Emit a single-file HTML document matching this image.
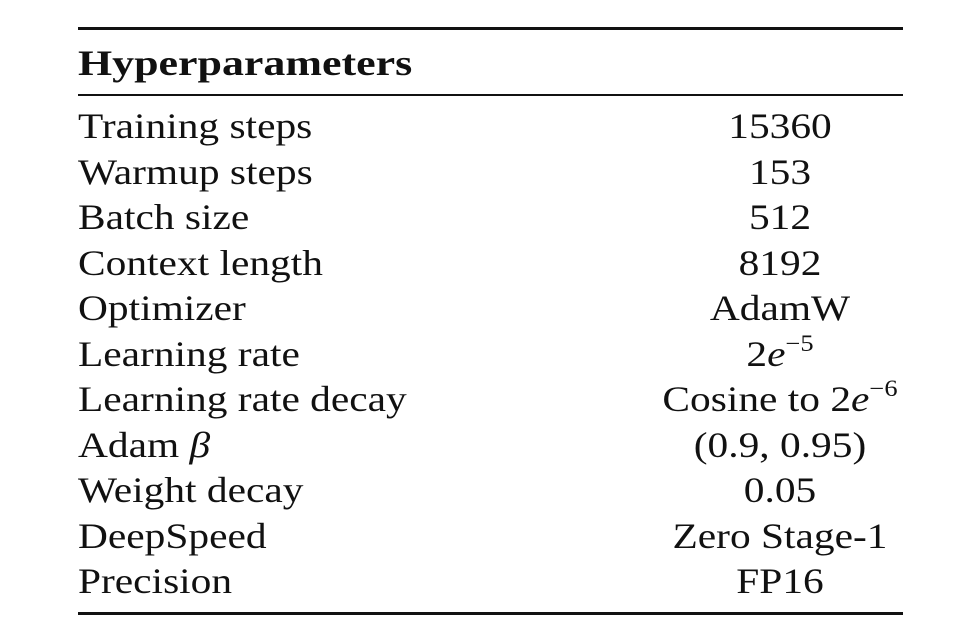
<!DOCTYPE html>
<html><head><meta charset="utf-8"><style>
html,body{margin:0;padding:0;background:#fff;}
body{width:978px;height:636px;position:relative;overflow:hidden;font-family:"Liberation Serif",serif;color:#111;}
.r{position:absolute;left:78px;width:825px;background:#111;}
.t{position:absolute;font-size:36px;line-height:36px;white-space:nowrap;}
.l{left:78px;transform:scaleX(1.15);transform-origin:0 0;}
.v{left:780px;transform:translateX(-50%) scaleX(1.15);transform-origin:center top;}
sup{font-size:23px;line-height:0;vertical-align:15px;}
</style></head><body>
<div class="r" style="top:27px;height:3px"></div>
<div class="r" style="top:94px;height:2px"></div>
<div class="r" style="top:612px;height:3px"></div>
<div class="t l" style="top:45px;font-weight:bold;transform:scaleX(1.22)">Hyperparameters</div>

<div class="t l" style="top:108px">Training steps</div><div class="t v" style="top:108px">15360</div>
<div class="t l" style="top:153.5px">Warmup steps</div><div class="t v" style="top:153.5px">153</div>
<div class="t l" style="top:199px">Batch size</div><div class="t v" style="top:199px">512</div>
<div class="t l" style="top:244.5px">Context length</div><div class="t v" style="top:244.5px">8192</div>
<div class="t l" style="top:290px">Optimizer</div><div class="t v" style="top:290px">AdamW</div>
<div class="t l" style="top:335.5px">Learning rate</div><div class="t v" style="top:335.5px">2<i>e</i><sup>−5</sup></div>
<div class="t l" style="top:381px">Learning rate decay</div><div class="t v" style="top:381px">Cosine to 2<i>e</i><sup>−6</sup></div>
<div class="t l" style="top:426.5px">Adam <i>β</i></div><div class="t v" style="top:426.5px">(0.9, 0.95)</div>
<div class="t l" style="top:472px">Weight decay</div><div class="t v" style="top:472px">0.05</div>
<div class="t l" style="top:517.5px">DeepSpeed</div><div class="t v" style="top:517.5px">Zero Stage-1</div>
<div class="t l" style="top:563px">Precision</div><div class="t v" style="top:563px">FP16</div>
</body></html>
